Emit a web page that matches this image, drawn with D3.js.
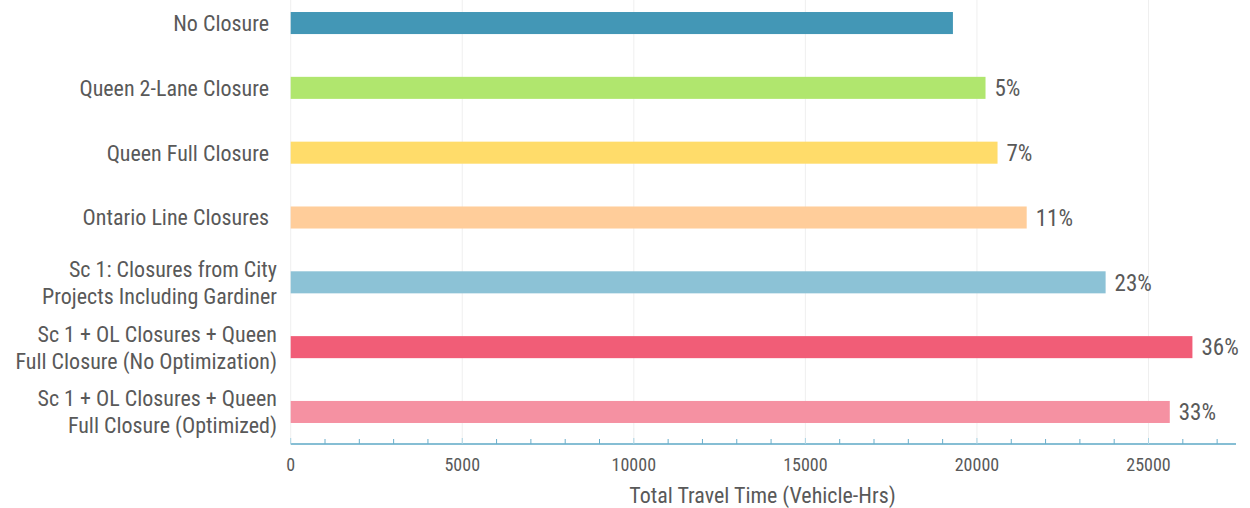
<!DOCTYPE html>
<html><head><meta charset="utf-8">
<script src="https://cdn.jsdelivr.net/npm/d3@7"></script>
<style>
body{margin:0;background:#fff;}
text{font-family:"Liberation Sans Narrow","Roboto Condensed","Arial Narrow",Roboto,sans-serif;}
</style></head>
<body><svg id="chart" width="1250" height="508"></svg>
<script>
const categories = [
  ["No Closure"],
  ["Queen 2-Lane Closure"],
  ["Queen Full Closure"],
  ["Ontario Line Closures"],
  ["Sc 1: Closures from City", "Projects Including Gardiner"],
  ["Sc 1 + OL Closures + Queen", "Full Closure (No Optimization)"],
  ["Sc 1 + OL Closures + Queen", "Full Closure (Optimized)"]
];
const values = [19300, 20250, 20600, 21450, 23750, 26280, 25620];
const pctLabels = ["", "5%", "7%", "11%", "23%", "36%", "33%"];
const colors = ["#4397b6", "#b0e66e", "#ffdc6a", "#ffcd9a", "#8cc2d6", "#f15d77", "#f591a2"];
const tickValues = [0, 5000, 10000, 15000, 20000, 25000];
const axisTitle = "Total Travel Time (Vehicle-Hrs)";

const svg = d3.select("#chart");
const left = 290.7, right = 1236, axisY = 444;
const x = d3.scaleLinear().domain([0, 27550]).range([left, right]);
const y = d3.scaleBand().domain(d3.range(categories.length)).range([1, 434]).paddingInner(0.66).paddingOuter(0.17);

// gridlines
svg.append("g").selectAll("line").data(tickValues).join("line")
  .attr("x1", d => x(d)).attr("x2", d => x(d)).attr("y1", 0).attr("y2", axisY)
  .attr("stroke", "#efefef").attr("stroke-width", 1);

// bars
svg.append("g").selectAll("rect").data(values).join("rect")
  .attr("x", x(0)).attr("y", (d, i) => y(i))
  .attr("width", d => x(d) - x(0)).attr("height", y.bandwidth())
  .attr("fill", (d, i) => colors[i]);

// pct labels
svg.append("g").selectAll("text").data(values).join("text")
  .attr("x", d => x(d) + 9).attr("y", (d, i) => y(i) + y.bandwidth() / 2)
  .attr("dy", "0.36em").attr("font-size", 23).attr("fill", "#595959")
  .text((d, i) => pctLabels[i]);

// category labels
const cl = svg.append("g").selectAll("text").data(categories).join("text")
  .attr("text-anchor", "end").attr("font-size", 22).attr("fill", "#595959");
cl.each(function(lines, i) {
  const t = d3.select(this);
  const cy = y(i) + y.bandwidth() / 2;
  const lh = 27;
  const ax = lines.length > 1 ? 277 : 269;
  lines.forEach((ln, j) => {
    t.append("tspan").attr("x", ax)
      .attr("y", cy + (j - (lines.length - 1) / 2) * lh)
      .attr("dy", "0.36em").text(ln);
  });
});

// x axis
const minor = d3.range(0, 27001, 1000);
const ax = svg.append("g");
ax.append("line").attr("x1", left).attr("x2", right).attr("y1", axisY).attr("y2", axisY)
  .attr("stroke", "#5ea9c6").attr("stroke-width", 1.3);
ax.selectAll("line.tick").data(minor).join("line").attr("class", "tick")
  .attr("x1", d => x(d)).attr("x2", d => x(d))
  .attr("y1", d => d % 5000 === 0 ? axisY - 6 : axisY - 5).attr("y2", axisY)
  .attr("stroke", d => d % 5000 === 0 ? "#a9d3e3" : "#6aaecb").attr("stroke-width", 1);
ax.selectAll("text").data(tickValues).join("text")
  .attr("x", d => x(d)).attr("y", 465).attr("dy", "0.35em")
  .attr("text-anchor", "middle").attr("font-size", 18).attr("fill", "#595959")
  .text(d => d);

svg.append("text").attr("x", x(13750)).attr("y", 495).attr("dy", "0.35em")
  .attr("text-anchor", "middle").attr("font-size", 22).attr("fill", "#595959")
  .text(axisTitle);
</script></body></html>
